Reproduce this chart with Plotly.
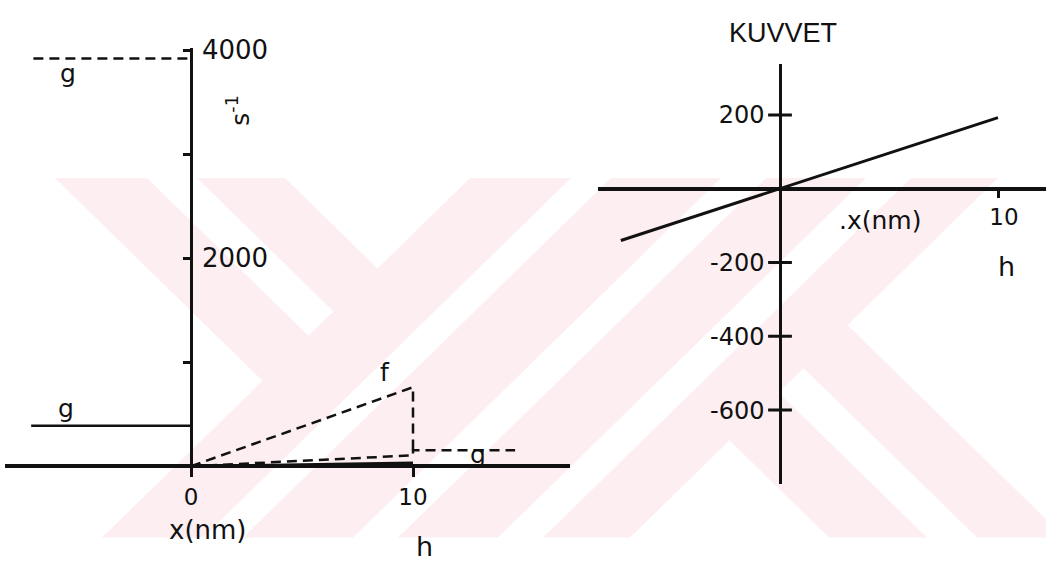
import plotly.graph_objects as go

W, H = 1046, 562

# ---------------- data ----------------
# left panel: rates (s^-1) against x (nm)
g_left_x = [-7.2, 0]
g_left_y = [390, 390]
g_top_x = [-7.1, 0]
g_top_y = [3920, 3920]
f_x = [0, 10, 10]
f_y = [0, 760, 150]
g_right_x = [0, 10, 10, 14.6]
g_right_y = [0, 105, 155, 155]
base_x = [0, 10]
base_y = [0, 35]
left_ticks_y = [1000, 2000, 3000, 4000]
left_ticktext_y = ["", "2000", "", "4000"]
left_ticks_x = [0, 10]

# right panel: force (KUVVET) against x (nm)
force_x = [-7.3, 10]
force_y = [-140, 193]
right_ticks_y = [200, -200, -400, -600]
right_ticktext_y = ["200", "-200", "-400", "-600"]
right_ticks_x = [10]

# ---------------- axis geometry (pixels) ----------------
L_ORIG = (191, 464)          # pixel of (0, 0) in the left panel
L_SX, L_SY = 22.2, 0.1065    # px per nm, px per s^-1
L_BOX = (5, 570, 36, 475)    # x0, x1, y_top, y_bottom
R_ORIG = (780, 180)
R_SX, R_SY = 21.8, 0.3775
R_BOX = (598, 1046, 52, 482)


def ranges(orig, sx, sy, box):
    x0, x1, yt, yb = box
    xr = [(x0 - orig[0]) / sx, (x1 - orig[0]) / sx]
    yr = [(orig[1] - yb) / sy, (orig[1] - yt) / sy]
    dom_x = [x0 / W, x1 / W]
    dom_y = [1 - yb / H, 1 - yt / H]
    return xr, yr, dom_x, dom_y


lxr, lyr, ldx, ldy = ranges(L_ORIG, L_SX, L_SY, L_BOX)
rxr, ryr, rdx, rdy = ranges(R_ORIG, R_SX, R_SY, R_BOX)

INK = "#111111"
DASH = "10px,6px"

fig = go.Figure()

line_kw = dict(mode="lines", hoverinfo="skip", showlegend=False)
fig.add_trace(go.Scatter(x=g_left_x, y=g_left_y, line=dict(color=INK, width=2.5), **line_kw))
fig.add_trace(go.Scatter(x=g_top_x, y=g_top_y, line=dict(color=INK, width=2.5, dash=DASH), **line_kw))
fig.add_trace(go.Scatter(x=f_x, y=f_y, line=dict(color=INK, width=2.5, dash=DASH), **line_kw))
fig.add_trace(go.Scatter(x=g_right_x, y=g_right_y, line=dict(color=INK, width=2.5, dash=DASH), **line_kw))
fig.add_trace(go.Scatter(x=base_x, y=base_y, line=dict(color=INK, width=2.5), **line_kw))

fig.add_trace(go.Scatter(x=force_x, y=force_y, xaxis="x2", yaxis="y2",
                         line=dict(color=INK, width=3), **line_kw))
# cross-shaped ticks on the force axis
fig.add_trace(go.Scatter(x=[0] * len(right_ticks_y), y=right_ticks_y, xaxis="x2", yaxis="y2",
                         mode="markers", hoverinfo="skip", showlegend=False,
                         marker=dict(symbol="line-ew", size=17,
                                     line=dict(color=INK, width=3))))

axis_common = dict(showgrid=False, zeroline=False, showline=True, linecolor=INK,
                   tickcolor=INK, anchor="free", fixedrange=True)

fig.update_layout(
    width=W, height=H,
    margin=dict(l=0, r=0, t=0, b=0),
    paper_bgcolor="white",
    plot_bgcolor="rgba(0,0,0,0)",
    showlegend=False,
    font=dict(family="DejaVu Sans", color=INK),
    xaxis=dict(domain=ldx, range=lxr, position=1 - L_ORIG[1] / H, linewidth=4,
               tickvals=left_ticks_x, ticks="outside", ticklen=9, tickwidth=2.5,
               tickfont=dict(size=23), **axis_common),
    yaxis=dict(domain=ldy, range=lyr, position=L_ORIG[0] / W, side="right", linewidth=2.5,
               tickvals=left_ticks_y, ticktext=left_ticktext_y, ticks="inside",
               ticklen=7, tickwidth=2.5, tickfont=dict(size=26), ticklabelstandoff=4,
               **axis_common),
    xaxis2=dict(domain=rdx, range=rxr, position=1 - R_ORIG[1] / H, linewidth=4,
                tickvals=right_ticks_x, ticks="outside", ticklen=7, tickwidth=2.5,
                tickfont=dict(size=23), ticklabelshift=6, **axis_common),
    yaxis2=dict(domain=rdy, range=ryr, position=R_ORIG[0] / W, side="left", linewidth=2.5,
                tickvals=right_ticks_y, ticktext=right_ticktext_y, ticks="",
                tickfont=dict(size=24), ticklabelstandoff=10, **axis_common),
)

# ---------------- labels ----------------
def lx(px):
    return (px - L_ORIG[0]) / L_SX


def ly(py):
    return (L_ORIG[1] - py) / L_SY


ann = [
    dict(text="g", x=lx(68), y=ly(62), xref="x", yref="y", font=dict(size=25)),
    dict(text="g", x=lx(66), y=ly(405), xref="x", yref="y", font=dict(size=25)),
    dict(text="f", x=lx(385), y=ly(368), xref="x", yref="y", font=dict(size=25)),
    dict(text="g", x=lx(478), y=ly(452), xref="x", yref="y", font=dict(size=25)),
    dict(text="s<sup>-1</sup>", x=lx(239), y=ly(100), xref="x", yref="y",
         textangle=-90, font=dict(size=25)),
    dict(text="x(nm)", x=207 / W, y=1 - 529 / H, xref="paper", yref="paper",
         font=dict(size=26)),
    dict(text="h", x=424 / W, y=1 - 546 / H, xref="paper", yref="paper",
         font=dict(size=27)),
    dict(text="KUVVET", x=783 / W, y=1 - 20 / H, xref="paper", yref="paper",
         font=dict(size=27, family="Liberation Sans")),
    dict(text=".x(nm)", x=880 / W, y=1 - 212 / H, xref="paper", yref="paper",
         font=dict(size=25)),
    dict(text="h", x=1006 / W, y=1 - 259 / H, xref="paper", yref="paper",
         font=dict(size=27)),
]
for a in ann:
    a.update(showarrow=False, xanchor="center", yanchor="middle")
fig.update_layout(annotations=ann)

# ---------------- background emblem (pale diagonal bands) ----------------
def clip(poly, a, b, c):
    out = []
    n = len(poly)
    for i in range(n):
        p, q = poly[i], poly[(i + 1) % n]
        fp = a * p[0] + b * p[1] - c
        fq = a * q[0] + b * q[1] - c
        if fp <= 0:
            out.append(p)
        if fp * fq < 0:
            t = fp / (fp - fq)
            out.append((p[0] + t * (q[0] - p[0]), p[1] + t * (q[1] - p[1])))
    return out


BAND = [(0, 169), (W, 169), (W, 537), (0, 537)]
pieces = []
for lo, hi in [(-114, -22), (28, 116)]:
    poly = clip(BAND, 1, 1, 639)
    poly = clip(poly, -1, 1, -lo)
    poly = clip(poly, 1, -1, hi)
    pieces.append(poly)
for lo, hi in [(639, 740), (780, 890), (935, 1035), (1080, 1167)]:
    poly = clip(BAND, -1, -1, -lo)
    poly = clip(poly, 1, 1, hi)
    pieces.append(poly)
for lo, hi in [(292, 390), (440, 528)]:
    poly = clip(BAND, -1, -1, -1167)
    poly = clip(poly, -1, 1, -lo)
    poly = clip(poly, 1, -1, hi)
    pieces.append(poly)

shapes = []
for poly in pieces:
    if len(poly) < 3:
        continue
    path = "M " + " L ".join(f"{x / W:.5f},{1 - y / H:.5f}" for x, y in poly) + " Z"
    shapes.append(dict(type="path", path=path, xref="paper", yref="paper",
                       fillcolor="#FDEEF1", line=dict(width=0), layer="below"))
fig.update_layout(shapes=shapes)

fig.write_html("out.html")
